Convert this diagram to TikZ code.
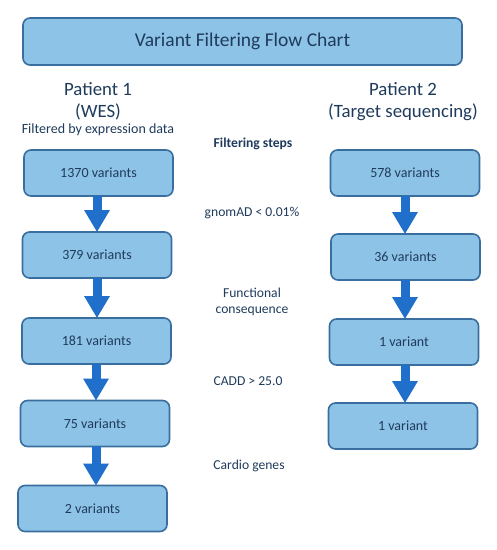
\documentclass[tikz,border=0pt]{standalone}
\usepackage{fontspec}
\setmainfont{Carlito}
\usetikzlibrary{arrows.meta}
\definecolor{boxfill}{HTML}{8EC3E8}
\definecolor{boxline}{HTML}{3A6E9E}
\definecolor{arrowc}{HTML}{1F6FCB}
\definecolor{txt}{HTML}{1F3B5C}
\tikzset{
  vbox/.style={draw=boxline, line width=1.6pt, fill=boxfill, rounded corners=7pt, minimum width=149pt, minimum height=46pt, inner sep=0pt, text=txt, font=\fontsize{14}{16}\selectfont},
  titlebox/.style={vbox, minimum width=439pt, minimum height=47pt, font=\fontsize{19.5}{24}\selectfont},
  lbl/.style={text=txt, inner sep=0pt, align=center},
  big/.style={lbl, font=\fontsize{18.8}{22}\selectfont},
  steplbl/.style={lbl, font=\fontsize{13.6}{16}\selectfont},
  flow/.style={draw=arrowc, line width=9pt, -{Triangle[width=24pt,length=22pt]}, arrowc, shorten <=-1pt, shorten >=-1pt}
}
\begin{document}
\begin{tikzpicture}[x=1pt,y=-1pt]
\useasboundingbox (0,0) rectangle (497,550);
\node[titlebox] (title) at (242.5,41.5) {Variant Filtering Flow Chart};
\node[big] (p1) at (98,89) {Patient 1};
\node[big] (p1b) at (98,112) {(WES)};
\node[lbl, font=\fontsize{14}{16}\selectfont] (p1c) at (98,130) {Filtered by expression data};
\node[big] (p2) at (403,89) {Patient 2};
\node[big] (p2b) at (403,112) {(Target sequencing)};
\node[lbl, font=\bfseries\fontsize{13.6}{16}\selectfont] (fs) at (253,144) {Filtering steps};

\node[vbox] (a1) at (98.5,173) {1370 variants};
\node[vbox] (a2) at (97,255) {379 variants};
\node[vbox] (a3) at (96.5,341) {181 variants};
\node[vbox] (a4) at (95,423.5) {75 variants};
\node[vbox] (a5) at (92.5,508.5) {2 variants};

\node[vbox] (b1) at (405,173) {578 variants};
\node[vbox] (b2) at (405.5,257) {36 variants};
\node[vbox] (b3) at (404,342) {1 variant};
\node[vbox] (b4) at (403,426) {1 variant};

\draw[flow] (a1.south -| 97,0) -- (a2.north -| 97,0);
\draw[flow] (a2.south -| 97,0) -- (a3.north -| 97,0);
\draw[flow] (a3.south -| 96,0) -- (a4.north -| 96,0);
\draw[flow] (a4.south -| 96,0) -- (a5.north -| 96,0);
\draw[flow] (b1.south -| 405,0) -- (b2.north -| 405,0);
\draw[flow] (b2.south -| 405,0) -- (b3.north -| 405,0);
\draw[flow] (b3.south -| 405,0) -- (b4.north -| 405,0);

\node[steplbl] (f1) at (252,213) {gnomAD {<} 0.01\%};
\node[steplbl] (f2) at (252,293) {Functional};
\node[steplbl] (f2b) at (252,311) {consequence};
\node[steplbl] (f3) at (248,381) {CADD {>} 25.0};
\node[steplbl] (f4) at (249,466) {Cardio genes};
\end{tikzpicture}
\end{document}
